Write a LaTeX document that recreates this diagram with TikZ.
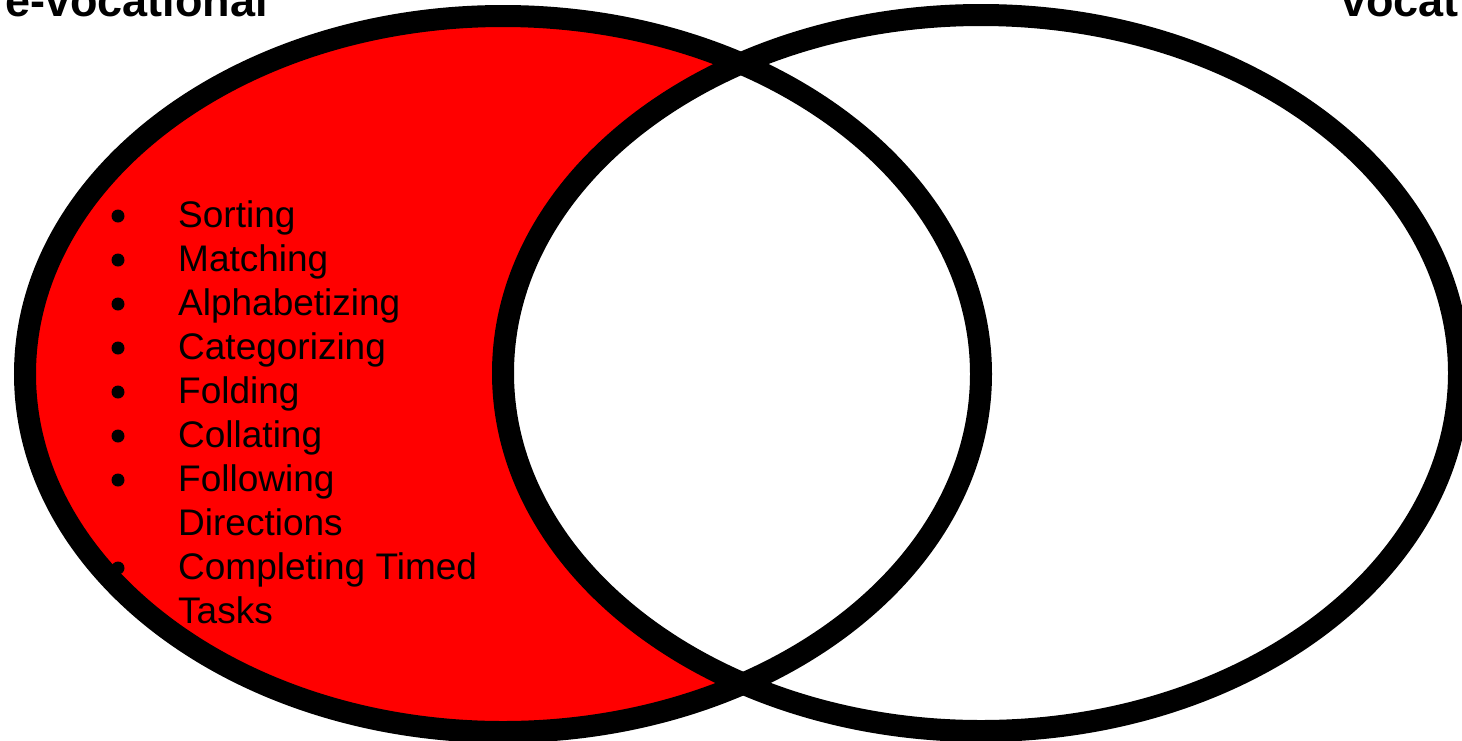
\documentclass[tikz,border=0pt]{standalone}
\usepackage{fontspec}
\setmainfont{Liberation Sans}
\begin{document}
\begin{tikzpicture}[x=1pt,y=-1pt,
  ring/.style={draw=black,line width=22pt},
  item/.style={anchor=base west,inner sep=0pt,font=\fontsize{37}{44}\selectfont},
  dotmark/.style={fill=black},
  title/.style={inner sep=0pt,font=\bfseries\fontsize{45}{54}\selectfont}]
\useasboundingbox (0,0) rectangle (1462,740);
\clip (0,0) rectangle (1462,740);
\fill[white] (0,0) rectangle (1462,740);
\coordinate (cl) at (503,374);
\coordinate (cr) at (981,373);
% red crescent
\fill[red] (cl) ellipse [x radius=478pt, y radius=358pt];
\fill[white] (cr) ellipse [x radius=478pt, y radius=358pt];
\draw[ring] (cl) ellipse [x radius=478pt, y radius=358pt];
\draw[ring] (cr) ellipse [x radius=478pt, y radius=358pt];
% titles
\node[title,anchor=base east] (t1) at (268,16) {e-vocational};
\node[title,anchor=base west] (t2) at (1341,16) {vocat};
% list
\node[item] (i1) at (178,227) {Sorting};
\node[item] (i2) at (178,271) {Matching};
\node[item] (i3) at (178,315) {Alphabetizing};
\node[item] (i4) at (178,359) {Categorizing};
\node[item] (i5) at (178,403) {Folding};
\node[item] (i6) at (178,447) {Collating};
\node[item] (i7) at (178,491) {Following};
\node[item] (i7b) at (178,535) {Directions};
\node[item] (i8) at (178,579) {Completing Timed};
\node[item] (i8b) at (178,623) {Tasks};
\foreach \y in {216,260,304,348,392,436,480,568}
  \fill[dotmark] (118,\y) circle (6.5pt);
\end{tikzpicture}
\end{document}
